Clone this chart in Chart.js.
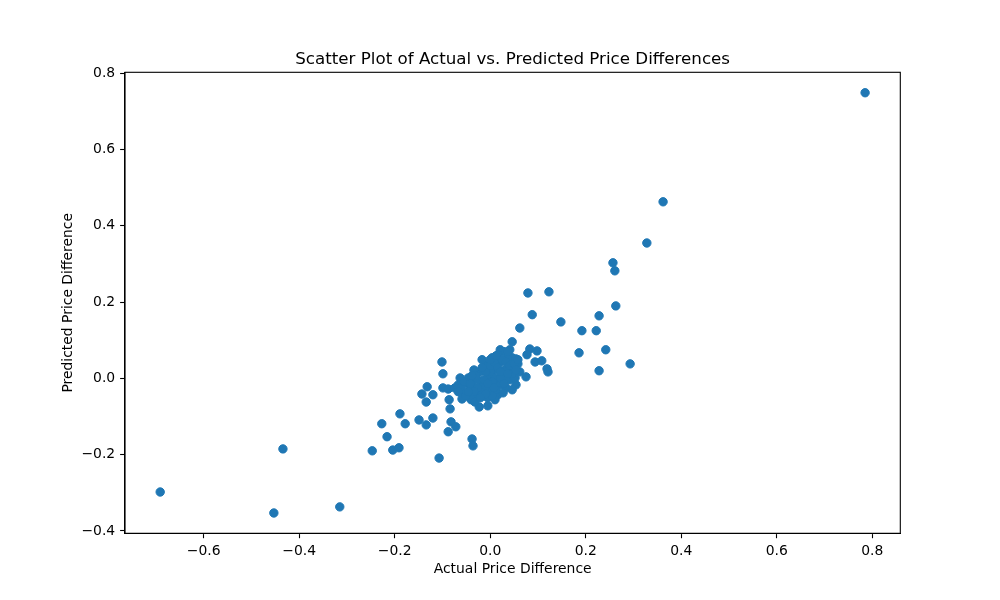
<!DOCTYPE html>
<html>
<head>
<meta charset="utf-8">
<script src="https://cdn.jsdelivr.net/npm/chart.js@4"></script>
<style>
    html, body { margin: 0; padding: 0; background: #fff; }
    #wrap { width: 1000px; height: 600px; }
</style>
</head>
<body>
<div id="wrap"><canvas id="scatterChart" width="1000" height="600"></canvas></div>
<script>
const chartTitle = "Scatter Plot of Actual vs. Predicted Price Differences";
const xLabel = "Actual Price Difference";
const yLabel = "Predicted Price Difference";

const xTicks = [-0.6, -0.4, -0.2, 0.0, 0.2, 0.4, 0.6, 0.8];
const yTicks = [-0.4, -0.2, 0.0, 0.2, 0.4, 0.6, 0.8];

// actual (x) and predicted (y) values
const actualDiff = [
    0.785, 0.362, 0.328, 0.257, 0.261, 0.263, 0.079, 0.123, 0.148, 0.088,
    0.228, 0.222, 0.192, 0.062, 0.046, 0.242, 0.186, 0.293, 0.228, 0.119,
    0.121, 0.075, 0.094, 0.108, 0.083, 0.098, 0.077, 0.054, 0.037,
    -0.101, -0.099, -0.132, -0.143, -0.134, -0.120, -0.099, -0.088, -0.086, -0.084,
    -0.189, -0.227, -0.178, -0.149, -0.134, -0.120, -0.082, -0.072, -0.088, -0.216,
    -0.247, -0.204, -0.191, -0.107, -0.038, -0.036, -0.059, -0.040, -0.023, -0.005,
    -0.691, -0.453, -0.434, -0.315,
    -0.067, -0.059, -0.051, -0.042, -0.034, -0.030, -0.021, -0.017, -0.013, -0.009,
    -0.005, 0.000, 0.004, 0.008, 0.012, 0.016, 0.021, 0.025, 0.029, 0.033,
    0.037, 0.041, 0.046, 0.050, 0.054, 0.058, 0.010, -0.011, -0.026, -0.042,
    0.021, 0.041, 0.031, 0.000, 0.016, 0.062, -0.051, -0.032, -0.063, -0.005,
    0.027, 0.046, 0.010, -0.017, -0.034, 0.037, -0.021, 0.004, 0.052, 0.021,
    -0.074,
    -0.059, -0.046, -0.038, -0.026, -0.013, -0.009, 0.000, 0.008, 0.016, 0.025,
    0.033, 0.041, 0.050, 0.046, 0.033, 0.021, 0.012, 0.004, -0.009, -0.021,
    -0.034, -0.046, -0.055, -0.042, -0.030, -0.017, -0.005, 0.008, 0.021, 0.037,
    0.054, 0.029, 0.000, 0.012, 0.037, 0.058, -0.067, -0.038
];
const predictedDiff = [
    0.749, 0.463, 0.355, 0.303, 0.282, 0.190, 0.224, 0.227, 0.148, 0.167,
    0.164, 0.125, 0.125, 0.132, 0.096, 0.075, 0.067, 0.038, 0.020, 0.025,
    0.017, 0.004, 0.043, 0.046, 0.077, 0.072, 0.062, 0.051, 0.062,
    0.043, 0.012, -0.022, -0.041, -0.062, -0.043, -0.025, -0.028, -0.056, -0.080,
    -0.093, -0.119, -0.119, -0.109, -0.122, -0.104, -0.114, -0.127, -0.140, -0.153,
    -0.190, -0.188, -0.182, -0.209, -0.159, -0.177, -0.054, -0.056, -0.075, -0.072,
    -0.298, -0.353, -0.185, -0.337,
    -0.017, -0.035, -0.012, -0.030, -0.004, -0.041, 0.017, -0.017, -0.046, 0.035,
    0.001, -0.030, 0.054, 0.022, -0.014, -0.043, 0.043, 0.007, 0.070, -0.025,
    0.028, -0.004, 0.054, 0.017, -0.017, 0.038, 0.001, -0.025, -0.004, -0.051,
    0.075, 0.075, 0.022, 0.017, 0.062, 0.017, -0.046, -0.062, 0.001, -0.051,
    -0.038, -0.030, -0.056, 0.049, 0.022, 0.054, -0.035, -0.009, 0.001, -0.017,
    -0.025,
    -0.020, 0.001, -0.020, -0.025, -0.004, 0.017, 0.033, 0.043, 0.028, 0.049,
    0.043, 0.033, 0.038, 0.012, -0.004, 0.001, -0.030, -0.046, -0.041, -0.051,
    -0.035, -0.035, -0.009, -0.014, 0.007, 0.028, -0.014, -0.025, 0.017, 0.012,
    0.022, -0.014, 0.049, 0.059, 0.070, 0.049, -0.035, 0.007
];

const tickFont = { family: "DejaVu Sans", size: 13.9 };
const labelFont = { family: "DejaVu Sans", size: 13.9 };

function formatTick(v) {
    return Number(v).toFixed(1).replace("-", "\u2212");
}

// matplotlib style frame plus title above the axes
const framePlugin = {
    id: "frame",
    afterDraw(chart) {
        const { ctx, chartArea } = chart;
        ctx.save();
        ctx.strokeStyle = "#000";
        ctx.lineWidth = 1.1;
        ctx.strokeRect(chartArea.left, chartArea.top,
            chartArea.right - chartArea.left, chartArea.bottom - chartArea.top);
        ctx.fillStyle = "#000";
        ctx.font = "16.7px 'DejaVu Sans'";
        ctx.textAlign = "center";
        ctx.textBaseline = "alphabetic";
        ctx.fillText(chartTitle, (chartArea.left + chartArea.right) / 2, 64);
        ctx.restore();
    },
};

function renderChart() {
    const points = actualDiff.map((x, i) => ({ x, y: predictedDiff[i] }));

    new Chart(document.getElementById("scatterChart"), {
        type: "scatter",
        data: {
            datasets: [{
                data: points,
                backgroundColor: "#1f77b4",
                borderColor: "#1f77b4",
                borderWidth: 1,
                pointRadius: 4.2,
                pointHoverRadius: 4.2,
            }],
        },
        options: {
            responsive: false,
            animation: false,
            events: [],
            layout: { padding: { left: 50, right: 99.7, top: 72.3, bottom: 0 } },
            plugins: {
                legend: { display: false },
                tooltip: { enabled: false },
                title: { display: false },
            },
            scales: {
                x: {
                    type: "linear",
                    min: -0.7647,
                    max: 0.8587,
                    afterBuildTicks: (scale) => { scale.ticks = xTicks.map(value => ({ value })); },
                    afterFit: (scale) => { scale.height = 66.7; },
                    ticks: {
                        callback: formatTick,
                        font: tickFont,
                        color: "#000",
                        padding: 4.9,
                        maxRotation: 0,
                        autoSkip: false,
                    },
                    grid: {
                        drawOnChartArea: false,
                        drawTicks: true,
                        tickLength: 4.9,
                        tickColor: "#000",
                        tickWidth: 1.1,
                    },
                    border: { display: true, color: "#000", width: 1.1 },
                    title: {
                        display: true,
                        text: xLabel,
                        font: labelFont,
                        color: "#000",
                        padding: { top: 0, bottom: 22.7 },
                    },
                },
                y: {
                    type: "linear",
                    min: -0.4063,
                    max: 0.8026,
                    afterBuildTicks: (scale) => { scale.ticks = yTicks.map(value => ({ value })); },
                    afterFit: (scale) => { scale.width = 75; },
                    ticks: {
                        callback: formatTick,
                        font: tickFont,
                        color: "#000",
                        padding: 4.9,
                        autoSkip: false,
                    },
                    grid: {
                        drawOnChartArea: false,
                        drawTicks: true,
                        tickLength: 4.9,
                        tickColor: "#000",
                        tickWidth: 1.1,
                    },
                    border: { display: true, color: "#000", width: 1.1 },
                    title: {
                        display: true,
                        text: yLabel,
                        font: labelFont,
                        color: "#000",
                        padding: { top: 9.7, bottom: 0 },
                    },
                },
            },
        },
        plugins: [framePlugin],
    });
}

renderChart();
</script>
</body>
</html>
